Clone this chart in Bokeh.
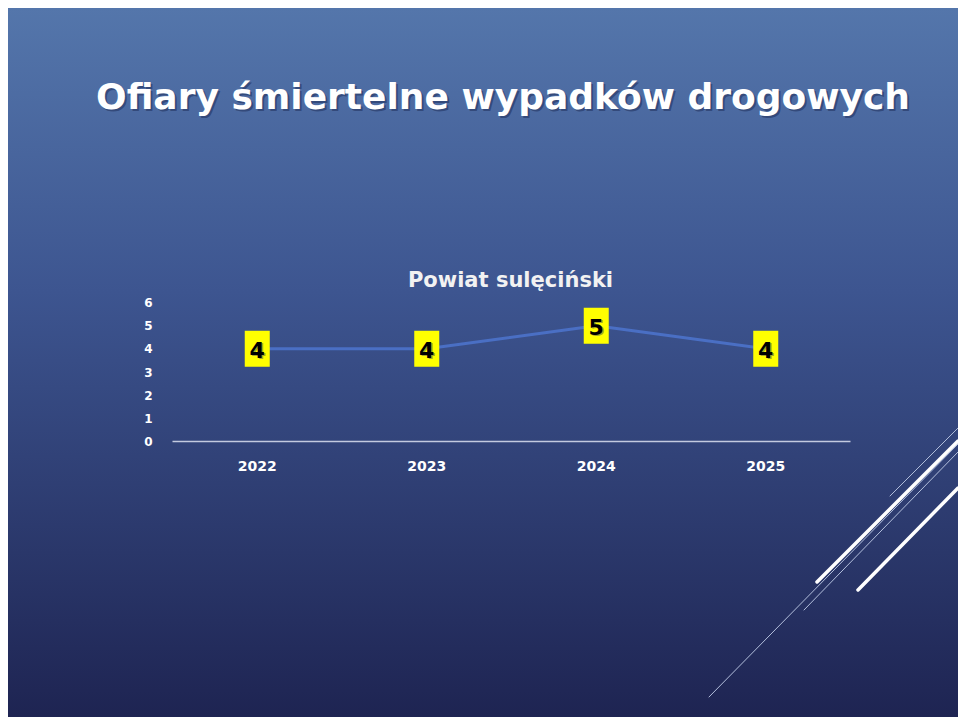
import urllib.parse
from bokeh.plotting import figure
from bokeh.models import (Range1d, FixedTicker, Label, InlineStyleSheet)
from bokeh.core.properties import value
from bokeh.embed import file_html
from bokeh.resources import INLINE

# ---- data ----
years = ["2022", "2023", "2024", "2025"]
deaths = [4, 4, 5, 4]
y_ticks = [0, 1, 2, 3, 4, 5, 6]
slide_title = "Ofiary śmiertelne wypadków drogowych"
chart_title = "Powiat sulęciński"

# category centres on a numeric axis
xpos = [i + 0.5 for i in range(len(years))]

W, H = 950, 709
FONT = "DejaVu Sans"

# slide decoration (diagonal lines of the slide theme, in figure pixels)
decor = [
    (701, 689, 950, 436, "#b3bfdc", 1),
    (796, 602, 950, 444, "#b3bfdc", 1),
    (882, 488, 950, 420, "#b3bfdc", 1),
    (809, 574, 950, 433, "#ffffff", 3.5),
    (850, 582, 950, 480, "#ffffff", 3.5),
]
svg_lines = "".join(
    f'<line x1="{a}" y1="{b}" x2="{c}" y2="{d}" stroke="{col}" stroke-width="{w}" stroke-linecap="round"/>'
    for a, b, c, d, col, w in decor)
svg = f'<svg xmlns="http://www.w3.org/2000/svg" width="{W}" height="{H}">{svg_lines}</svg>'
uri = "data:image/svg+xml," + urllib.parse.quote(svg)
css = (":host { background-image: url(\"" + uri + "\"), "
       "linear-gradient(180deg, #5476ab 0%, #3d5590 40%, #1e2452 100%); "
       "background-repeat: no-repeat; background-size: 100% 100%, 100% 100%; }")

p = figure(width=W, height=H, x_range=Range1d(0, len(years)), y_range=Range1d(0, 6),
           output_backend="svg", toolbar_location=None,
           min_border_left=164, min_border_right=108,
           min_border_top=294, min_border_bottom=276)
p.margin = (8, 0, 0, 8)
p.border_fill_color = None
p.background_fill_color = None
p.outline_line_color = None
p.grid.visible = False
p.stylesheets = [InlineStyleSheet(css=css)]

# page-pixel helper ranges (for the titles)
p.extra_x_ranges = {"px": Range1d(172, 850)}
p.extra_y_ranges = {"py": Range1d(441, 302)}

# axes
xa = p.xaxis[0]
xa.ticker = FixedTicker(ticks=xpos)
xa.major_label_overrides = {x: y for x, y in zip(xpos, years)}
xa.axis_line_color = "#c3cadf"
xa.axis_line_width = 1.5
xa.major_tick_line_color = None
xa.minor_tick_line_color = None
xa.major_label_text_color = "white"
xa.major_label_text_font = FONT
xa.major_label_text_font_style = "bold"
xa.major_label_text_font_size = "14px"
xa.major_label_standoff = 13

ya = p.yaxis[0]
ya.ticker = FixedTicker(ticks=y_ticks)
ya.axis_line_color = None
ya.major_tick_line_color = None
ya.minor_tick_line_color = None
ya.major_label_text_color = "white"
ya.major_label_text_font = FONT
ya.major_label_text_font_style = "bold"
ya.major_label_text_font_size = "12px"
ya.major_label_standoff = 14

# series
p.line(x=xpos, y=deaths, line_color="#4a6fc4", line_width=3)
p.rect(x=xpos, y=deaths, width=25, height=36, width_units="screen",
       height_units="screen", fill_color="#ffff00", line_color=None)
p.text(x=xpos, y=deaths, text=[str(v) for v in deaths], text_align="center",
       text_baseline="middle", x_offset=1.5, y_offset=2.5,
       text_font=value(FONT), text_font_style="bold", text_font_size="22px",
       text_color="#6b6b40", text_alpha=0.6)
p.text(x=xpos, y=deaths, text=[str(v) for v in deaths], text_align="center",
       text_baseline="middle", y_offset=1,
       text_font=value(FONT), text_font_style="bold", text_font_size="22px",
       text_color="black")

# titles (placed in a side panel so they are not clipped to the plot frame)
p.add_layout(Label(x=504.5, y=98, text=slide_title, text_align="center",
                   text_baseline="alphabetic", text_font=FONT, text_font_style="bold",
                   text_font_size="36px", text_color="#1c2a55", text_alpha=0.5,
                   x_range_name="px", y_range_name="py"), "above")
p.add_layout(Label(x=502.5, y=96, text=slide_title, text_align="center",
                   text_baseline="alphabetic", text_font=FONT, text_font_style="bold",
                   text_font_size="36px", text_color="white",
                   x_range_name="px", y_range_name="py"), "above")
p.add_layout(Label(x=510, y=279, text=chart_title, text_align="center",
                   text_baseline="alphabetic", text_font=FONT, text_font_style="bold",
                   text_font_size="21px", text_color="#f2f2f2",
                   x_range_name="px", y_range_name="py"), "above")

open("out.html", "w").write(file_html(p, INLINE))
